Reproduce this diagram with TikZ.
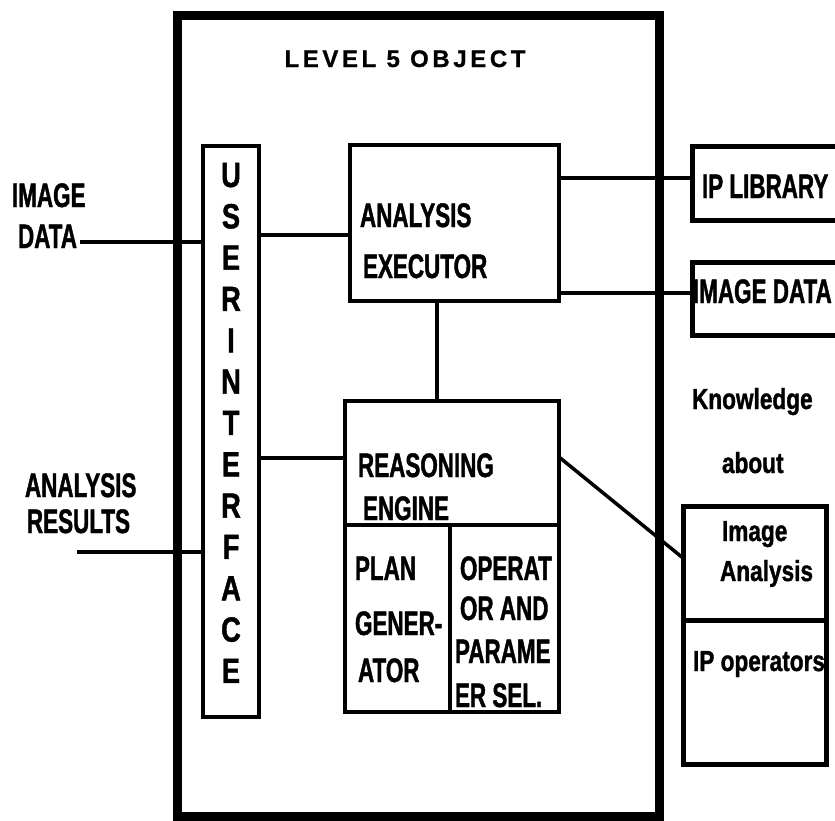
\documentclass[tikz,border=0pt]{standalone}
\usepackage{fontspec}
% condensed, heavy bold faces for the labels
\newfontfamily\cnd{Liberation Sans}[FakeStretch=0.66, FakeBold=1.2]
\newfontfamily\cndw{Liberation Sans}[FakeStretch=0.78, FakeBold=1.2]
\newfontfamily\ttlfont{Liberation Sans}[LetterSpace=15, FakeBold=0.8]

\tikzset{
  frame/.style={draw=black, line width=9pt, fill=none, inner sep=0pt, outer sep=0pt},
  box/.style={draw=black, line width=4pt, inner sep=0pt, outer sep=0pt},
  extbox/.style={draw=black, line width=5pt, inner sep=0pt, outer sep=0pt},
  link/.style={draw=black, line width=3.5pt},
  caps/.style={anchor=base west, inner sep=0pt, outer sep=0pt,
    font=\cnd\bfseries\fontsize{34}{36}\selectfont},
  lower/.style={anchor=base west, inner sep=0pt, outer sep=0pt,
    font=\cndw\bfseries\fontsize{29}{32}\selectfont},
  uiletter/.style={anchor=base, inner sep=0pt, outer sep=0pt,
    font=\cndw\bfseries\fontsize{35}{36}\selectfont},
  title/.style={anchor=base, inner sep=0pt, outer sep=0pt,
    font=\ttlfont\bfseries\fontsize{24}{26}\selectfont},
}

\begin{document}
\begin{tikzpicture}[x=1pt, y=-1pt]
  \useasboundingbox (0,0) rectangle (835,820);
  \clip (0,0) rectangle (835,820);
  \fill[white] (0,0) rectangle (835,820);

  % outer object frame
  \node[frame, minimum width=482pt, minimum height=801pt] (obj) at (418,415.5) {};
  \node[title] (ttl) at (405,67) {LEVEL 5 OBJECT};

  % user interface column
  \node[box, minimum width=56pt, minimum height=571pt] (ui) at (231,431.5) {};
  \foreach \ch [count=\i from 0] in {U,S,E,R,I,N,T,E,R,F,A,C,E} {
    \node[uiletter] (ui-\i) at (231,187+41.33*\i) {\ch};
  }

  % analysis executor
  \node[box, minimum width=209pt, minimum height=156pt] (ae) at (454.5,223) {};
  \node[caps] (ae-1) at (360,227) {ANALYSIS};
  \node[caps] (ae-2) at (363,278) {EXECUTOR};

  % reasoning engine with its two sub-modules
  \node[box, minimum width=214pt, minimum height=311pt] (re) at (452,556.5) {};
  \draw[box] ([yshift=-124pt]re.north west) -- ([yshift=-124pt]re.north east);
  \draw[box] ([xshift=105pt,yshift=-124pt]re.north west) -- ([xshift=105pt]re.south west);
  \node[caps] (re-1) at (358,477) {REASONING};
  \node[caps] (re-2) at (363,520) {ENGINE};
  \node[caps] (pg-1) at (355,580) {PLAN};
  \node[caps] (pg-2) at (355,635) {GENER-};
  \node[caps] (pg-3) at (358,682) {ATOR};
  \node[caps] (op-1) at (460,580) {OPERAT};
  \node[caps] (op-2) at (460,620) {OR AND};
  \node[caps] (op-3) at (455,663) {PARAME};
  \node[caps] (op-4) at (455,707) {ER SEL.};

  % external resources
  \node[extbox, minimum width=208pt, minimum height=74pt] (ipl) at (796,183) {};
  \node[caps] (ipl-t) at (702,198) {IP LIBRARY};
  \node[extbox, minimum width=208pt, minimum height=73pt] (imd) at (796,298.5) {};
  \node[caps] (imd-t) at (693,303) {IMAGE DATA};

  % knowledge base
  \node[lower] (kn-1) at (692,409) {Knowledge};
  \node[lower] (kn-2) at (722,473) {about};
  \node[extbox, minimum width=143pt, minimum height=258pt] (kb) at (754.5,635) {};
  \draw[extbox] ([yshift=-114pt]kb.north west) -- ([yshift=-114pt]kb.north east);
  \node[lower] (kb-1) at (722,541) {Image};
  \node[lower] (kb-2) at (720,581) {Analysis};
  \node[lower] (kb-3) at (693,671) {IP operators};

  % inputs and outputs on the left
  \node[caps] (in-1) at (12,207) {IMAGE};
  \node[caps] (in-2) at (18,248) {DATA};
  \node[caps] (out-1) at (25,497) {ANALYSIS};
  \node[caps] (out-2) at (27,533) {RESULTS};
  \coordinate (inEnd) at (80,242);
  \coordinate (outEnd) at (77,552);
  \draw[link] (inEnd) -- (inEnd -| ui.west);
  \draw[link] (outEnd) -- (outEnd -| ui.west);

  % connections between modules
  \draw[link] ([yshift=-12pt]ae.west -| ui.east) -- ([yshift=-12pt]ae.west);
  \draw[link] ([yshift=98.5pt]re.west -| ui.east) -- ([yshift=98.5pt]re.west);
  \draw[link] ([xshift=-17.5pt]ae.south) -- ([xshift=-17.5pt]ae.south |- re.north);
  \draw[link] ([yshift=-33pt]ae.north east) -- ([yshift=-33pt]ae.north east -| ipl.west);
  \draw[link] ([yshift=8pt]ae.south east) -- ([yshift=8pt]ae.south east -| imd.west);
  \draw[link] ([yshift=99.5pt]re.east) -- ([yshift=77pt]kb.west);
\end{tikzpicture}
\end{document}
